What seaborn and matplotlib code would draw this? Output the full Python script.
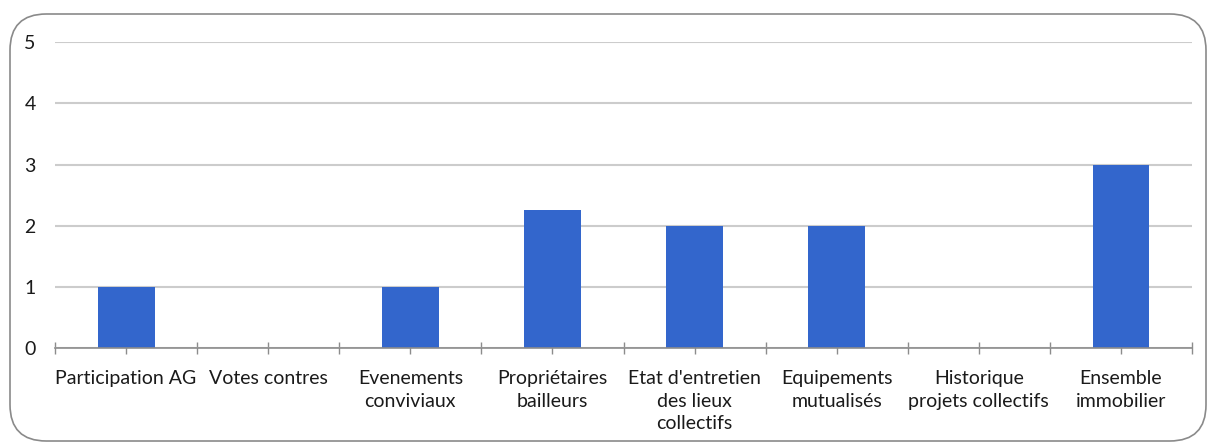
import matplotlib.pyplot as plt
import pandas as pd
import seaborn as sns
from matplotlib.patches import FancyBboxPatch
from matplotlib.ticker import FixedLocator

CATEGORIES = [
    "Participation AG",
    "Votes contres",
    "Evenements conviviaux",
    "Propriétaires bailleurs",
    "Etat d'entretien des lieux collectifs",
    "Equipements mutualisés",
    "Historique projets collectifs",
    "Ensemble immobilier",
]
TICK_LABELS = [
    "Participation AG",
    "Votes contres",
    "Evenements\nconviviaux",
    "Propriétaires\nbailleurs",
    "Etat d'entretien\ndes lieux\ncollectifs",
    "Equipements\nmutualisés",
    "Historique\nprojets collectifs",
    "Ensemble\nimmobilier",
]
VALUES = [1, 0, 1, 2.25, 2, 2, 0, 3]
Y_TICKS = [0, 1, 2, 3, 4, 5]

BAR_COLOR = "#3366cc"
GRID_COLOR = "#cccccc"
AXIS_COLOR = "#8c8c8c"


def main() -> None:
    sns.set_theme(style="white")
    plt.rcParams["font.family"] = ["Lato", "DejaVu Sans"]

    df = pd.DataFrame({"category": CATEGORIES, "value": VALUES})

    fig = plt.figure(figsize=(12.09, 4.44), dpi=100)
    ax = fig.add_axes([0.0455, 0.216, 0.9405, 0.689])

    sns.barplot(data=df, x="category", y="value", color=BAR_COLOR, width=0.4,
                saturation=1, linewidth=0, ax=ax, zorder=3)

    ax.set_ylim(0, 5)
    ax.set_xlim(-0.5, len(CATEGORIES) - 0.5)
    ax.set_yticks(Y_TICKS)
    ax.yaxis.grid(True, color=GRID_COLOR, linewidth=1.5, zorder=0)
    ax.set_axisbelow(True)

    ax.set_xticks(range(len(CATEGORIES)))
    ax.set_xticklabels(TICK_LABELS, fontsize=14, linespacing=1.42, color="#1a1a1a")
    ax.xaxis.set_minor_locator(FixedLocator([i - 0.5 for i in range(len(CATEGORIES) + 1)]))
    ax.tick_params(axis="x", which="both", direction="inout", length=9, width=1,
                   color=AXIS_COLOR, bottom=True, pad=11)
    ax.tick_params(axis="y", length=0, labelsize=14, pad=14, labelcolor="#1a1a1a")

    for side in ["left", "right", "top"]:
        ax.spines[side].set_visible(False)
    ax.spines["bottom"].set_color(AXIS_COLOR)
    ax.spines["bottom"].set_linewidth(1.2)
    ax.spines["bottom"].set_zorder(4)

    ax.set_xlabel("")
    ax.set_ylabel("")

    border = FancyBboxPatch(
        (10 / 1209, 3 / 444), 1196 / 1209, 427 / 444,
        boxstyle="round,pad=0,rounding_size=0.03",
        transform=fig.transFigure, fill=False, edgecolor="#8a8a8a", linewidth=1.2,
        mutation_aspect=1209 / 444,
    )
    fig.patches.append(border)

    fig.savefig("out.png", dpi=100)
    plt.close(fig)


if __name__ == "__main__":
    main()
